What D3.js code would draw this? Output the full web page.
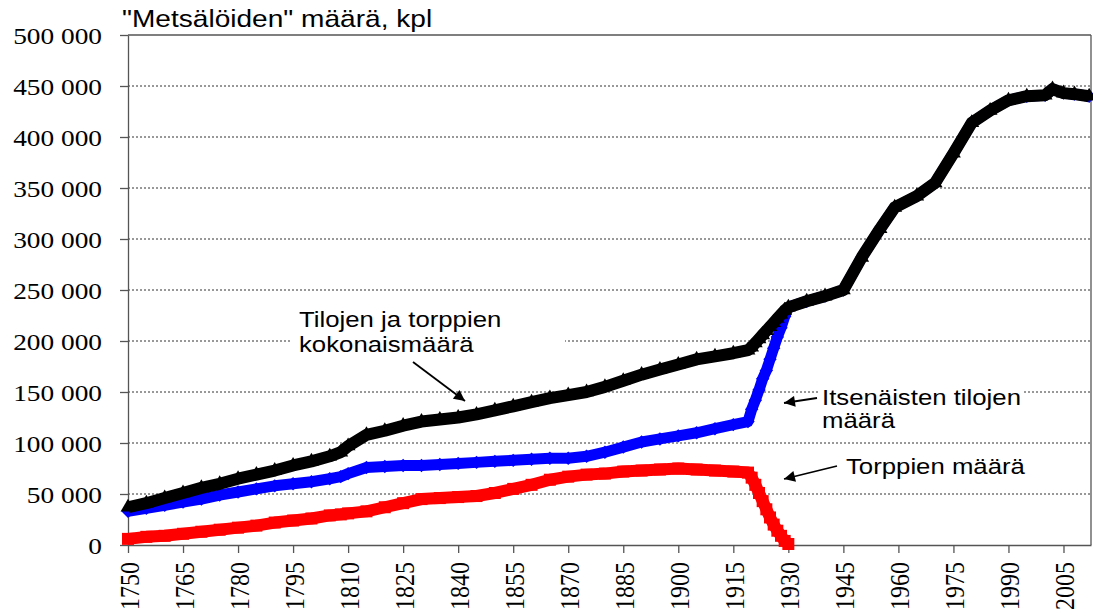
<!DOCTYPE html>
<html>
<head>
<meta charset="utf-8">
<script src="https://cdn.jsdelivr.net/npm/d3@7"></script>
<style>
  body { margin: 0; background: #fff; }
  svg { display: block; }
  .serif { font-family: 'Liberation Serif', 'Times New Roman', serif; }
  .sans { font-family: 'Liberation Sans', Arial, sans-serif; }
</style>
</head>
<body>
<svg id="chart"></svg>
<script>
// years (5-year steps, yearly around 1919-1930)
var years = [1750,1755,1760,1765,1770,1775,1780,1785,1790,1795,1800,1805,1808,1810,1815,1820,1825,1830,1835,1840,
  1845,1850,1855,1860,1865,1870,1875,1880,1885,1890,1895,1900,1905,1910,1915,1919,1920,1921,1922,1923,
  1924,1925,1926,1927,1928,1929,1930,1935,1940,1945,1950,1955,1959,1965,1970,1975,1980,1985,1990,1995,
  2000,2002,2005,2008,2012];

// Tilojen ja torppien kokonaismäärä (thousands)
var total = [37,41,46,51,56,60,65,69,73,78,82,87,91,97,108,112,117,121,123,125,
  128,132,136,140,144,147,150,155,161,167,172,177,182,185,188,191,194,198,202,206,
  210,214,218,222,226,230,233,239,244,250,282,310,331,342,355,384,414,426,436,440,
  441,447,443,442,440];

// Itsenäisten tilojen määrä (thousands)
var farms = [33,36,39,42,45,49,52,55,58,60,62,65,67,70,76,77,78,78,79,80,
  81,82,83,84,85,85,87,91,96,101,104,107,110,114,118,121,133,142,152,163,
  171,182,193,204,213,224,233,239,244,250,282,310,331,342,355,384,414,426,436,440,
  441,447,443,442,440];

// Torppien määrä (thousands), ends 1930
var crofts = [6,8,9,11,13,15,17,19,22,24,26,29,30,31,33,37,41,45,46,47,
  48,51,55,59,64,67,69,70,72,73,74,75,74,73,72,71,66,59,51,43,
  35,27,20,14,9,4,1];

var yTicks = [0,50000,100000,150000,200000,250000,300000,350000,400000,450000,500000];
var xTicks = [1750,1765,1780,1795,1810,1825,1840,1855,1870,1885,1900,1915,1930,1945,1960,1975,1990,2005];

(function () {
  var W = 1093, H = 613;
  var mLeft = 128, mRight = 1091, mTop = 35, mBottom = 545;
  var stretch = 1.14;

  var svg = d3.select('#chart').attr('width', W).attr('height', H);
  svg.append('rect').attr('width', W).attr('height', H).attr('fill', '#fff');

  var x = d3.scaleLinear().domain([1750, 2012.5]).range([mLeft, mRight]);
  var y = d3.scaleLinear().domain([0, 500000]).range([mBottom, mTop]);

  // gridlines
  svg.append('g').selectAll('line')
    .data(yTicks.filter(function (t) { return t > 0 && t < 500000; }))
    .enter().append('line')
    .attr('x1', mLeft).attr('x2', mRight)
    .attr('y1', function (d) { return y(d); })
    .attr('y2', function (d) { return y(d); })
    .attr('stroke', '#333')
    .attr('stroke-width', 1)
    .attr('stroke-dasharray', '2,2');

  // frame top + right
  svg.append('line').attr('x1', mLeft).attr('x2', mRight).attr('y1', mTop).attr('y2', mTop)
    .attr('stroke', '#555').attr('stroke-width', 1.3);
  svg.append('line').attr('x1', mRight).attr('x2', mRight).attr('y1', mTop).attr('y2', mBottom)
    .attr('stroke', '#555').attr('stroke-width', 1.3);

  // white boxes behind annotations
  svg.append('rect').attr('x', 292).attr('y', 302).attr('width', 273).attr('height', 56).attr('fill', '#fff');
  svg.append('rect').attr('x', 818).attr('y', 384).attr('width', 205).attr('height', 50).attr('fill', '#fff');

  var fmt = function (d) { return d3.format(',')(d).replace(/,/g, ' '); };

  var yAxis = d3.axisLeft(y).tickValues(yTicks).tickSize(8).tickSizeOuter(0).tickFormat(fmt);
  var gy = svg.append('g').attr('transform', 'translate(' + mLeft + ',0)').call(yAxis);
  gy.attr('font-family', null).attr('font-size', null);
  gy.select('.domain').attr('stroke', '#555').attr('stroke-width', 1.3);
  gy.selectAll('.tick line').attr('stroke', '#555').attr('stroke-width', 1.3);
  gy.selectAll('.tick text')
    .attr('class', 'serif')
    .attr('x', 0).attr('dy', '0.34em')
    .attr('transform', 'translate(-26,0) scale(' + stretch + ',1)')
    .attr('text-anchor', 'end')
    .style('font-size', '24px')
    .attr('fill', '#000');

  var xAxis = d3.axisBottom(x).tickValues(xTicks).tickSize(8).tickSizeOuter(0).tickFormat(d3.format('d'));
  var gx = svg.append('g').attr('transform', 'translate(0,' + mBottom + ')').call(xAxis);
  gx.attr('font-family', null).attr('font-size', null);
  gx.select('.domain').attr('stroke', '#555').attr('stroke-width', 1.3);
  gx.selectAll('.tick line').attr('stroke', '#555').attr('stroke-width', 1.3);
  gx.selectAll('.tick text')
    .attr('class', 'serif')
    .attr('x', 0).attr('y', 0).attr('dy', '0.38em')
    .attr('transform', 'translate(0,17) scale(' + stretch + ',1) rotate(-90)')
    .attr('text-anchor', 'end')
    .style('font-size', '24px')
    .attr('fill', '#000');

  // series
  var series = [
    { vals: crofts, color: '#ff0000', width: 12, sym: d3.symbolSquare, size: 144, rot: 0 },
    { vals: farms, color: '#0000ff', width: 11, sym: d3.symbolSquare, size: 90, rot: 45 },
    { vals: total, color: '#000000', width: 12, sym: d3.symbolTriangle, size: 95, rot: 0 }
  ];

  series.forEach(function (s) {
    var pts = s.vals.map(function (v, i) { return { year: years[i], v: v * 1000 }; });
    var line = d3.line()
      .x(function (d) { return x(d.year); })
      .y(function (d) { return y(d.v); });
    svg.append('path')
      .datum(pts)
      .attr('d', line)
      .attr('fill', 'none')
      .attr('stroke', s.color)
      .attr('stroke-width', s.width)
      .attr('stroke-linejoin', 'round');
    svg.append('g').selectAll('path')
      .data(pts)
      .enter().append('path')
      .attr('d', d3.symbol().type(s.sym).size(s.size))
      .attr('transform', function (d) {
        return 'translate(' + x(d.year) + ',' + y(d.v) + ') rotate(' + s.rot + ')';
      })
      .attr('fill', s.color);
  });

  // title
  svg.append('text')
    .attr('class', 'sans')
    .attr('transform', 'translate(122,27) scale(1.17,1)')
    .style('font-size', '24px')
    .attr('fill', '#000')
    .text('"Metsälöiden" määrä, kpl');

  // annotations
  var notes = [
    { x: 299, y: 327, t: 'Tilojen ja torppien' },
    { x: 299, y: 352, t: 'kokonaismäärä' },
    { x: 822, y: 405, t: 'Itsenäisten tilojen' },
    { x: 822, y: 428, t: 'määrä' },
    { x: 846, y: 474, t: 'Torppien määrä' }
  ];
  svg.append('g').selectAll('text')
    .data(notes)
    .enter().append('text')
    .attr('class', 'sans')
    .attr('transform', function (d) { return 'translate(' + d.x + ',' + d.y + ') scale(1.12,1)'; })
    .style('font-size', '23px')
    .attr('fill', '#000')
    .text(function (d) { return d.t; });

  svg.append('defs').append('marker')
    .attr('id', 'arrow')
    .attr('viewBox', '0 0 10 10')
    .attr('refX', 10).attr('refY', 5)
    .attr('markerWidth', 16).attr('markerHeight', 11)
    .attr('markerUnits', 'userSpaceOnUse')
    .attr('orient', 'auto')
    .append('path').attr('d', 'M0,0 L10,5 L0,10 z').attr('fill', '#000');

  var arrows = [
    [413, 362, 465, 401],
    [817, 398, 784, 403],
    [837, 466, 784, 479]
  ];
  svg.append('g').selectAll('line')
    .data(arrows)
    .enter().append('line')
    .attr('x1', function (d) { return d[0]; })
    .attr('y1', function (d) { return d[1]; })
    .attr('x2', function (d) { return d[2]; })
    .attr('y2', function (d) { return d[3]; })
    .attr('stroke', '#000')
    .attr('stroke-width', 1.8)
    .attr('marker-end', 'url(#arrow)');
})();
</script>
</body>
</html>
